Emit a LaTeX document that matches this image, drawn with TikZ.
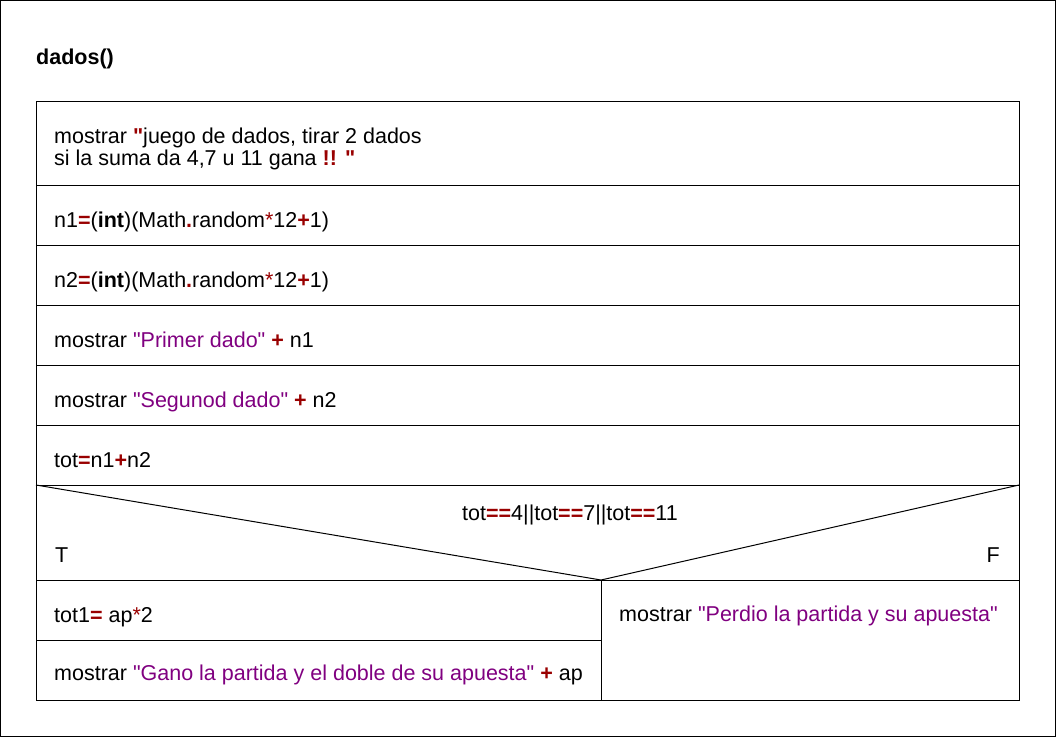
\documentclass[tikz,border=0pt]{standalone}
\usepackage{fontspec}
\setmainfont{Liberation Sans}[Ligatures=TeXOff]
\usetikzlibrary{positioning}
\definecolor{opred}{RGB}{153,0,0}
\definecolor{strpurple}{RGB}{128,0,128}
\newcommand{\qt}{\char34\relax}
\newcommand{\opr}[1]{\textcolor{opred}{\textbf{#1}}}
\newcommand{\strg}[1]{\textcolor{strpurple}{#1}}

\begin{document}
\begin{tikzpicture}
  [x=1pt,y=-1pt,
   txt/.style={anchor=base west,inner sep=0pt,font=\fontsize{21.5}{24}\selectfont},
   title/.style={txt,font=\bfseries\fontsize{21.5}{24}\selectfont},
   rule/.style={draw,line width=1pt}
  ]
  \useasboundingbox (0,0) rectangle (1056,737);
  \draw[rule] (0.5,0.5) rectangle (1055.5,736.5);

  \node[title] (name) at (36,64) {dados()};

  % structogram frame
  \coordinate (tl) at (36,101);
  \coordinate (br) at (1019,700);
  \coordinate (apex) at (601,580);
  \draw[rule] (tl) rectangle (br);
  \foreach \y in {185,245,305,365,425,485,580}
    \draw[rule] (36,\y) -- (1019,\y);
  \draw[rule] (36,485) -- (apex) -- (1019,485);
  \draw[rule] (apex) -- (601,700);
  \draw[rule] (36,640) -- (601,640);

  % sequence
  \node[txt] (intro1) at (54,143) {mostrar \opr{\qt}juego de dados, tirar 2 dados};
  \node[txt] (intro2) at (54,165) {si la suma da 4,7 u 11 gana \opr{!!} \opr{\qt}};
  \node[txt] (dado1) at (54,227) {n1\opr{=}(\textbf{int})(Math\opr{.}random\textcolor{opred}{*}12\opr{+}1)};
  \node[txt] (dado2) at (54,287) {n2\opr{=}(\textbf{int})(Math\opr{.}random\textcolor{opred}{*}12\opr{+}1)};
  \node[txt] (show1) at (54,347) {mostrar \strg{\qt Primer dado\qt} \opr{+} n1};
  \node[txt] (show2) at (54,407) {mostrar \strg{\qt Segunod dado\qt} \opr{+} n2};
  \node[txt] (suma) at (54,467) {tot\opr{=}n1\opr{+}n2};

  % decision
  \node[txt,anchor=base] (cond) at (570,520) {tot\opr{==}4||tot\opr{==}7||tot\opr{==}11};
  \node[txt] (yes) at (55,562) {T};
  \node[txt,anchor=base east] (no) at (1000,562) {F};

  \node[txt] (doble) at (54,622) {tot1\opr{=} ap\textcolor{opred}{*}2};
  \node[txt] (gano) at (54,680) {mostrar \strg{\qt Gano la partida y el doble de su apuesta\qt} \opr{+} ap};
  \node[txt] (perdio) at (619,621) {mostrar \strg{\qt Perdio la partida y su apuesta\qt}};

\end{tikzpicture}
\end{document}
